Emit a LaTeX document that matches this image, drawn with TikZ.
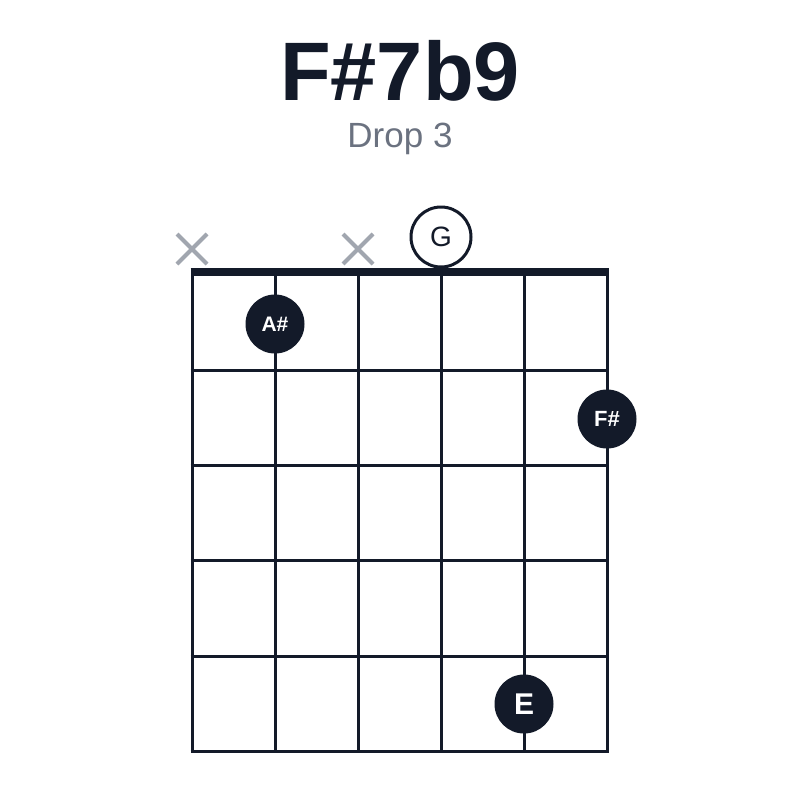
\documentclass[tikz,border=0pt]{standalone}
\usepackage{fontspec}
\setmainfont{Liberation Sans}
\usetikzlibrary{calc}
\begin{document}
\begin{tikzpicture}[x=1pt,y=-1pt,
  ink/.style={draw=navy,line width=3pt},
  fingerdot/.style={circle,fill=navy,minimum size=59pt,inner sep=0pt,text=white,font=\bfseries\fontsize{21}{21}\selectfont},
  opendot/.style={circle,draw=navy,line width=3pt,fill=white,minimum size=59pt,inner sep=0pt,text=navy,font=\fontsize{28}{28}\selectfont},
  mutemark/.style={draw=mutegray,line width=4pt}]
\definecolor{navy}{HTML}{131A29}
\definecolor{mutegray}{HTML}{A1A6AF}
\definecolor{subgray}{HTML}{6B7280}
\useasboundingbox[fill=white] (0,0) rectangle (800,800);
% title
\node[text=navy,font=\bfseries\fontsize{83}{83}\selectfont,anchor=base] (title) at (400,100) {F\#7b9};
\node[text=subgray,font=\fontsize{35}{35}\selectfont,anchor=base] (sub) at (400,147.5) {Drop 3};
% strings
\foreach \i/\x in {1/192,2/275,3/358,4/441,5/524,6/607}{
  \coordinate (s\i t) at (\x,272);
  \coordinate (s\i b) at (\x,751);
  \draw[ink] (s\i t) -- (s\i b);
}
% frets
\foreach \j/\y in {1/370,2/465,3/560,4/656,5/751}{
  \coordinate (f\j l) at (190.5,\y);
  \coordinate (f\j r) at (608.5,\y);
  \draw[ink] (f\j l) -- (f\j r);
}
% nut
\coordinate (nutl) at (190.5,272);
\coordinate (nutr) at (608.5,272);
\draw[navy,line width=8pt] (nutl) -- (nutr);
% mutes
\foreach \n/\x in {m1/192,m3/358}{
  \coordinate (\n) at (\x,249);
  \draw[mutemark] ($(\n)+(-15,-15)$) -- ($(\n)+(15,15)$);
  \draw[mutemark] ($(\n)+(-15,15)$) -- ($(\n)+(15,-15)$);
}
% open string
\node[opendot,minimum size=60pt] (g) at (441,237) {G};
% fingers
\node[fingerdot] (as) at (275,324) {A\#};
\node[fingerdot,font=\bfseries\fontsize{22}{22}\selectfont] (fs) at (607,419) {F\#};
\node[fingerdot,font=\bfseries\fontsize{30}{30}\selectfont] (e) at (524,704) {E};
\end{tikzpicture}
\end{document}
